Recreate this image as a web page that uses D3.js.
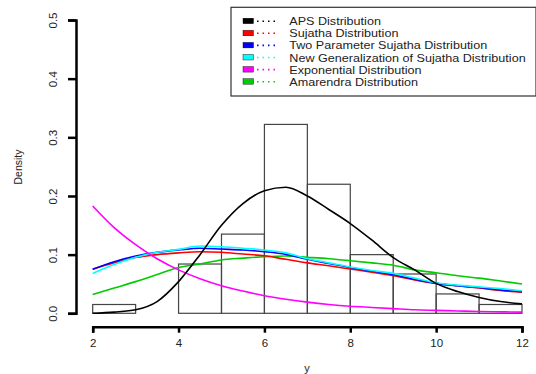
<!DOCTYPE html>
<html><head><meta charset="utf-8">
<script src="https://cdn.jsdelivr.net/npm/d3@7"></script>
<style>body{margin:0;background:#fff}svg{display:block;font-family:"Liberation Sans",Arial,sans-serif}</style>
</head><body><svg id="c" width="536" height="374"></svg>
<script>
const binEdges = [2,3,4,5,6,7,8,9,10,11,12];
const binDensity = [0.015,0,0.084,0.135,0.322,0.220,0.100,0.067,0.033,0.015];
const xs = [2,2.5,3,3.5,4,4.5,5,5.5,6,6.5,7,7.5,8,8.5,9,9.5,10,10.5,11,11.5,12];
const aps  = [0.000,0.002,0.006,0.020,0.054,0.100,0.150,0.187,0.209,0.215,0.200,0.177,0.153,0.125,0.095,0.074,0.051,0.037,0.027,0.020,0.016];
const suj  = [0.075,0.086,0.095,0.100,0.103,0.105,0.104,0.101,0.098,0.092,0.086,0.081,0.0755,0.070,0.064,0.057,0.051,0.047,0.043,0.039,0.036];
const suj2 = [0.075,0.088,0.0976,0.104,0.108,0.111,0.1095,0.108,0.105,0.1005,0.092,0.085,0.078,0.072,0.066,0.058,0.051,0.047,0.044,0.040,0.037];
const sujNG= [0.068,0.083,0.0954,0.104,0.109,0.1147,0.1135,0.111,0.108,0.103,0.093,0.086,0.079,0.073,0.068,0.060,0.052,0.048,0.045,0.042,0.0385];
const expo = [0.183,0.146,0.117,0.093,0.074,0.059,0.047,0.038,0.030,0.024,0.019,0.015,0.012,0.010,0.008,0.006,0.005,0.004,0.003,0.0025,0.002];
const amar = [0.032,0.043,0.054,0.066,0.078,0.084,0.091,0.094,0.0965,0.0976,0.0954,0.093,0.0897,0.086,0.082,0.074,0.069,0.064,0.060,0.055,0.050];
const xTicks = [2,4,6,8,10,12];
const yTicks = [0,0.1,0.2,0.3,0.4,0.5];
const legendNames = ["APS Distribution","Sujatha Distribution","Two Parameter Sujatha Distribution","New Generalization of Sujatha Distribution","Exponential Distribution","Amarendra Distribution"];
const colors = ["#000000","#ff0000","#0000ff","#00ffff","#ff00ff","#00cc00"];
const series = [aps,suj,suj2,sujNG,expo,amar];

const svg = d3.select("#c");
const x = d3.scaleLinear().domain([2,12]).range([92.7,522]);
const y = d3.scaleLinear().domain([0,0.5]).range([313.3,20]);

// histogram
svg.append("g").selectAll("rect").data(binDensity).join("rect")
  .attr("x",(d,i)=>x(binEdges[i])).attr("width",(d,i)=>x(binEdges[i+1])-x(binEdges[i]))
  .attr("y",d=>y(d)).attr("height",d=>y(0)-y(d))
  .attr("fill","none").attr("stroke","#444").attr("stroke-width",1.2);

// curves
const line = d3.line().x((d,i)=>x(xs[i])).y(d=>y(d)).curve(d3.curveMonotoneX);
const order = [5,1,2,3,4,0];
order.forEach(k=>{
  svg.append("path").attr("d",line(series[k])).attr("fill","none")
    .attr("stroke",colors[k]).attr("stroke-width",1.6);
});

// x axis
const xa = svg.append("g").attr("transform","translate(0,326.7)")
  .call(d3.axisBottom(x).tickValues(xTicks).tickFormat(d3.format("d")).tickSizeOuter(0).tickSize(6).tickPadding(6));
xa.select(".domain").attr("stroke-width",2.5);
xa.selectAll(".tick line").attr("stroke-width",2.5);
xa.selectAll("text").attr("font-size",11.5).attr("fill","#222").attr("font-family","Liberation Sans, Arial, sans-serif");

// y axis
const ya = svg.append("g").attr("transform","translate(76,0)")
  .call(d3.axisLeft(y).tickValues(yTicks).tickFormat(d3.format(".1f")).tickSizeOuter(0).tickSize(8));
ya.select(".domain").attr("stroke-width",2.5);
ya.selectAll(".tick line").attr("stroke-width",2.5);
ya.selectAll("text").attr("font-size",11.5).attr("fill","#222")
  .attr("font-family","Liberation Sans, Arial, sans-serif")
  .attr("text-anchor","middle").attr("dy","0").attr("x",0)
  .attr("transform","translate(-19,0) rotate(-90)");

// axis titles
svg.append("text").attr("x",307).attr("y",372).attr("text-anchor","middle")
  .attr("font-size",11).attr("fill","#222").text("y");
svg.append("text").attr("transform","translate(22,167) rotate(-90)").attr("text-anchor","middle")
  .attr("font-size",10.5).attr("fill","#222").text("Density");

// legend
const lg = svg.append("g");
lg.append("rect").attr("x",231).attr("y",7.3).attr("width",305).attr("height",88.7)
  .attr("fill","#fff").attr("stroke","#333").attr("stroke-width",1.2);
const rowY = i => 21.2 + i*12.1;
legendNames.forEach((n,i)=>{
  lg.append("rect").attr("x",243).attr("y",rowY(i)-3).attr("width",10.5).attr("height",5.5)
    .attr("fill",colors[i]).attr("stroke","#000").attr("stroke-width",0.4);
  lg.append("line").attr("x1",257).attr("x2",276).attr("y1",rowY(i)).attr("y2",rowY(i))
    .attr("stroke",colors[i]).attr("stroke-width",1.6).attr("stroke-dasharray","1.5,4");
  lg.append("text").attr("transform",`translate(289.3,${rowY(i)+4}) scale(1.2,1)`).attr("font-size",10.5)
    .attr("fill","#222").text(n);
});
</script></body></html>
